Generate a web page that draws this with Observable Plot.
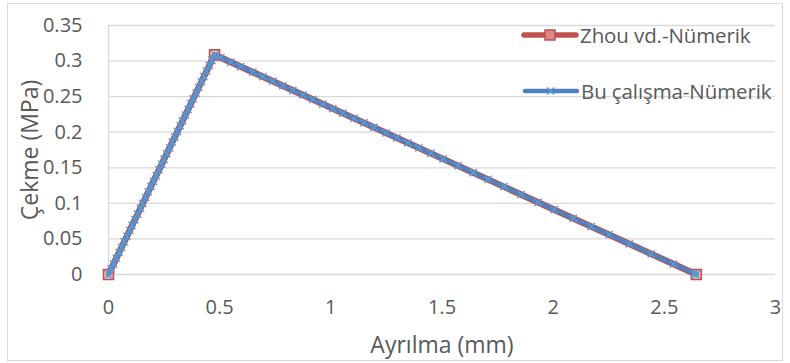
<!DOCTYPE html>
<html>
<head>
<meta charset="utf-8">
<script src="https://cdn.jsdelivr.net/npm/d3@7"></script>
<script src="https://cdn.jsdelivr.net/npm/@observablehq/plot@0.6"></script>
<style>
  html, body { margin: 0; padding: 0; background: #fff; }
  #wrap { position: relative; width: 790px; height: 363px; font-family: "Open Sans", sans-serif; }
  #border { position: absolute; left: 7px; top: 3px; width: 774px; height: 356px; border: 1px solid #d9d9d9; pointer-events: none; }
  .leg { position: absolute; display: flex; align-items: center; font-size: 20.5px; color: #595959; white-space: nowrap; letter-spacing: -0.1px; }
  .leg svg { display: block; }
</style>
</head>
<body>
<div id="wrap">
  <div id="border"></div>
</div>
<script>
// Series 1: Zhou vd.-Nümerik
const zhouX = [0, 0.477, 2.644];
const zhouY = [0, 0.309, 0];

// Series 2: Bu çalışma-Nümerik
const buX = [0, 0.012, 0.023, 0.035, 0.048, 0.059, 0.071, 0.083, 0.096, 0.106, 0.119, 0.131, 0.144, 0.154, 0.167, 0.179, 0.191, 0.202, 0.215, 0.227, 0.239, 0.250, 0.262, 0.275, 0.287, 0.298, 0.310, 0.323, 0.333, 0.346, 0.358, 0.370, 0.381, 0.394, 0.406, 0.418, 0.429, 0.441, 0.454, 0.465, 0.477,
  0.505, 0.550, 0.595, 0.649, 0.694, 0.739, 0.784, 0.829, 0.874, 0.919, 0.964, 1.009, 1.054, 1.104, 1.149, 1.194, 1.248, 1.297, 1.347, 1.396, 1.450, 1.505, 1.572, 1.640, 1.707, 1.779, 1.856, 1.932, 2.005, 2.090, 2.171, 2.252, 2.342, 2.441, 2.541, 2.635, 2.644];
const buY = [0, 0.008, 0.015, 0.023, 0.031, 0.038, 0.046, 0.054, 0.062, 0.069, 0.077, 0.085, 0.093, 0.100, 0.108, 0.116, 0.124, 0.131, 0.139, 0.147, 0.155, 0.162, 0.170, 0.178, 0.186, 0.193, 0.201, 0.209, 0.216, 0.224, 0.232, 0.240, 0.247, 0.255, 0.263, 0.271, 0.278, 0.286, 0.294, 0.301, 0.309,
  0.305, 0.2986, 0.2922, 0.2845, 0.2781, 0.2717, 0.2653, 0.2589, 0.2524, 0.2460, 0.2396, 0.2332, 0.2268, 0.2196, 0.2132, 0.2068, 0.1991, 0.1921, 0.1850, 0.1780, 0.1703, 0.1624, 0.1529, 0.1432, 0.1336, 0.1234, 0.1124, 0.1015, 0.0911, 0.0790, 0.0674, 0.0559, 0.0431, 0.0289, 0.0147, 0.0013, 0];

const xTicks = [0, 0.5, 1, 1.5, 2, 2.5, 3];
const yTicks = [0, 0.05, 0.1, 0.15, 0.2, 0.25, 0.3, 0.35];
const seriesNames = ["Zhou vd.-Nümerik", "Bu çalışma-Nümerik"];
const xTitle = "Ayrılma (mm)";
const yTitle = "Çekme (MPa)";
const colors = ["#c0504d", "#4f81bd"];

const zhou = zhouX.map((x, i) => ({x, y: zhouY[i]}));
const bu = buX.map((x, i) => ({x, y: buY[i]}));

const chart = Plot.plot({
  width: 790,
  height: 363,
  marginLeft: 108,
  marginRight: 15,
  marginTop: 25,
  marginBottom: 89,
  style: {fontFamily: "'Open Sans', sans-serif", fontSize: "20px", color: "#595959", background: "transparent", overflow: "visible"},
  x: {domain: [0, 3]},
  y: {domain: [0, 0.35]},
  marks: [
    Plot.gridY(yTicks, {stroke: "#d9d9d9", strokeOpacity: 1, strokeWidth: 1.3}),
    Plot.ruleX([0], {stroke: "#d9d9d9", strokeWidth: 1.3}),
    Plot.axisY(yTicks, {tickSize: 0, tickPadding: 26, tickFormat: d => String(d), label: null, fill: "#595959", fontSize: 20}),
    Plot.axisX(xTicks, {tickSize: 0, tickPadding: 25, tickFormat: d => String(d), label: null, fill: "#595959", fontSize: 20}),
    Plot.text([xTitle], {frameAnchor: "bottom", dy: 71, text: d => d, fill: "#595959", fontSize: 23, lineAnchor: "middle", textAnchor: "middle"}),
    Plot.text([yTitle], {frameAnchor: "left", dx: -78, rotate: -90, text: d => d, fill: "#595959", fontSize: 23, lineAnchor: "middle", textAnchor: "middle"}),
    Plot.line(zhou, {x: "x", y: "y", stroke: colors[0], strokeWidth: 6.5, strokeLinejoin: "round", strokeLinecap: "round"}),
    Plot.dot(zhou, {x: "x", y: "y", symbol: "square", r: 5.5, stroke: colors[0], strokeWidth: 1.8, fill: "white", fillOpacity: 0.4}),
    Plot.line(bu, {x: "x", y: "y", stroke: colors[1], strokeWidth: 4.5, strokeLinejoin: "round"}),
    Plot.dot(bu, {x: "x", y: "y", symbol: "times", r: 3.4, stroke: "#5b9bd5", strokeWidth: 1.4})
  ]
});
const wrap = document.getElementById("wrap");
wrap.insertBefore(chart, wrap.firstChild);

// Legend
function legendItem(name, color, marker, left, top) {
  const div = document.createElement("div");
  div.className = "leg";
  div.style.left = left + "px";
  div.style.top = top + "px";
  const ns = "http://www.w3.org/2000/svg";
  const s = document.createElementNS(ns, "svg");
  s.setAttribute("width", 58); s.setAttribute("height", 14);
  const l = document.createElementNS(ns, "line");
  l.setAttribute("x1", 3); l.setAttribute("x2", 55); l.setAttribute("y1", 7); l.setAttribute("y2", 7);
  l.setAttribute("stroke", color); l.setAttribute("stroke-width", marker === "square" ? 5.5 : 4.5); l.setAttribute("stroke-linecap", "round");
  s.appendChild(l);
  if (marker === "square") {
    const r = document.createElementNS(ns, "rect");
    r.setAttribute("x", 24); r.setAttribute("y", 2); r.setAttribute("width", 10); r.setAttribute("height", 10);
    r.setAttribute("fill", "#d88"); r.setAttribute("stroke", color); r.setAttribute("stroke-width", 1.5);
    s.appendChild(r);
  } else {
    const p = document.createElementNS(ns, "path");
    p.setAttribute("d", "M25,3.5L32,10.5M32,3.5L25,10.5");
    p.setAttribute("stroke", "#5b9bd5"); p.setAttribute("stroke-width", 1.4);
    s.appendChild(p);
  }
  div.appendChild(s);
  const t = document.createElement("span");
  t.textContent = name;
  t.style.marginLeft = "1px";
  div.appendChild(t);
  wrap.appendChild(div);
}
legendItem(seriesNames[0], colors[0], "square", 521, 21);
legendItem(seriesNames[1], colors[1], "times", 522, 77);
</script>
</body>
</html>
